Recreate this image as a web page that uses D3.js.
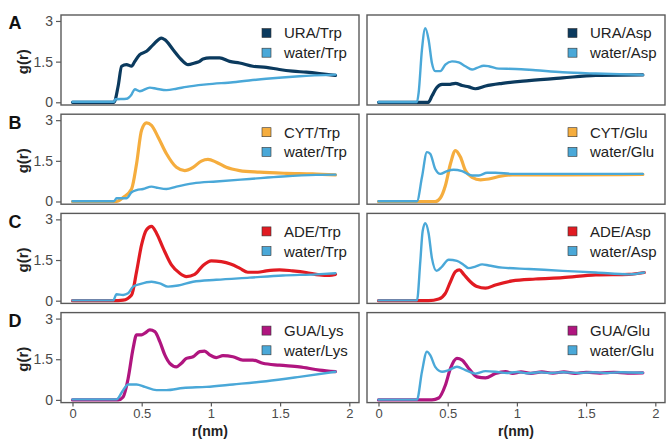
<!DOCTYPE html>
<html>
<head>
<meta charset="utf-8">
<script src="https://cdn.jsdelivr.net/npm/d3@7"></script>
<style>
  body { margin: 0; background: #fff; }
  svg { display: block; }
</style>
</head>
<body>
<div id="canvas"></div>
<script>
"use strict"

/* Chart values: [r (nm), g(r)] */

let letters = ["A", "B", "C", "D"];
let leftNames = ["URA/Trp", "CYT/Trp", "ADE/Trp", "GUA/Lys"];
let leftWater = ["water/Trp", "water/Trp", "water/Trp", "water/Lys"];
let rightNames = ["URA/Asp", "CYT/Glu", "ADE/Asp", "GUA/Glu"];
let rightWater = ["water/Asp", "water/Glu", "water/Asp", "water/Glu"];

let xTicks = [0, 0.5, 1, 1.5, 2];
let yTicks = [0, 1.5, 3];

let uraTrp = [[0,0],[0.30,0],[0.33,0.60],[0.355,1.33],[0.39,1.39],[0.427,1.33],[0.45,1.51],[0.486,1.76],[0.535,1.88],[0.582,2.12],[0.643,2.37],[0.667,2.31],[0.727,1.94],[0.787,1.57],[0.835,1.39],[0.883,1.45],[0.919,1.51],[0.943,1.60],[0.991,1.64],[1.063,1.64],[1.135,1.51],[1.207,1.45],[1.303,1.33],[1.40,1.29],[1.495,1.21],[1.59,1.15],[1.688,1.11],[1.784,1.06],[1.90,0.99]];
let waterTrpA = [[0,0.02],[0.30,0.02],[0.31,0.11],[0.39,0.13],[0.427,0.29],[0.45,0.48],[0.486,0.41],[0.559,0.54],[0.607,0.50],[0.679,0.45],[0.751,0.50],[0.823,0.57],[0.967,0.66],[1.159,0.74],[1.40,0.87],[1.64,0.96],[1.90,1.02]];
let uraAsp = [[0,0],[0.36,0],[0.386,0.23],[0.42,0.54],[0.459,0.66],[0.507,0.66],[0.556,0.70],[0.604,0.62],[0.652,0.57],[0.70,0.50],[0.773,0.60],[0.894,0.70],[1.087,0.80],[1.33,0.90],[1.57,0.99],[1.91,1.01]];
let waterAspA = [[0,0.01],[0.278,0.01],[0.29,0.35],[0.314,1.94],[0.338,2.73],[0.362,2.31],[0.386,1.45],[0.41,1.15],[0.447,1.15],[0.483,1.39],[0.531,1.51],[0.58,1.47],[0.628,1.33],[0.676,1.21],[0.712,1.27],[0.761,1.35],[0.797,1.33],[0.87,1.24],[0.99,1.23],[1.135,1.18],[1.33,1.11],[1.57,1.06],[1.91,1.01]];

let cytTrp = [[0,0],[0.318,0],[0.366,0.15],[0.427,0.46],[0.463,1.39],[0.499,2.63],[0.535,2.90],[0.571,2.81],[0.618,2.38],[0.679,1.76],[0.751,1.26],[0.811,1.14],[0.871,1.26],[0.931,1.49],[0.979,1.55],[1.039,1.45],[1.111,1.26],[1.207,1.14],[1.351,1.08],[1.544,1.04],[1.735,1.02],[1.90,0.98]];
let waterTrpB = [[0,0.01],[0.30,0.01],[0.318,0.12],[0.39,0.12],[0.427,0.34],[0.463,0.42],[0.51,0.46],[0.571,0.55],[0.618,0.50],[0.679,0.46],[0.751,0.55],[0.871,0.67],[1.039,0.74],[1.279,0.83],[1.519,0.92],[1.76,0.98],[1.90,0.99]];
let cytGlu = [[0,0],[0.41,0],[0.447,0.13],[0.483,0.58],[0.52,1.39],[0.556,1.88],[0.592,1.64],[0.628,1.14],[0.676,0.89],[0.737,0.80],[0.797,0.83],[0.87,0.92],[0.966,0.98],[1.33,0.98],[1.91,1.00]];
let waterGluB = [[0,0.01],[0.278,0.01],[0.314,0.89],[0.35,1.82],[0.374,1.76],[0.41,1.20],[0.447,1.02],[0.495,1.12],[0.543,1.17],[0.604,1.12],[0.676,0.96],[0.725,0.96],[0.785,1.06],[0.845,1.06],[0.966,1.02],[1.91,1.02]];

let adeTrp = [[0,0],[0.294,0],[0.366,0.02],[0.427,0.21],[0.463,1.07],[0.499,2.06],[0.535,2.62],[0.571,2.74],[0.607,2.49],[0.655,1.94],[0.715,1.32],[0.775,1.01],[0.823,0.89],[0.883,0.97],[0.943,1.30],[1.003,1.47],[1.075,1.44],[1.147,1.34],[1.207,1.20],[1.267,1.05],[1.339,1.05],[1.40,1.10],[1.495,1.14],[1.59,1.10],[1.688,1.04],[1.784,0.95],[1.856,0.93],[1.90,0.97]];
let waterTrpC = [[0,0.01],[0.294,0.01],[0.318,0.24],[0.366,0.21],[0.402,0.27],[0.438,0.52],[0.486,0.61],[0.571,0.70],[0.631,0.64],[0.69,0.52],[0.763,0.56],[0.871,0.70],[1.039,0.77],[1.279,0.85],[1.519,0.93],[1.76,0.97],[1.90,1.01]];
let adeAsp = [[0,0],[0.362,0],[0.435,0.06],[0.483,0.27],[0.52,0.70],[0.556,1.07],[0.585,1.14],[0.616,0.97],[0.664,0.70],[0.712,0.52],[0.773,0.46],[0.845,0.58],[0.966,0.73],[1.135,0.80],[1.33,0.85],[1.57,0.95],[1.81,0.97],[1.92,1.04]];
let waterAspC = [[0,0.01],[0.278,0.01],[0.302,1.44],[0.319,2.56],[0.338,2.86],[0.362,2.49],[0.386,1.57],[0.42,1.10],[0.459,1.26],[0.507,1.51],[0.567,1.47],[0.616,1.32],[0.652,1.20],[0.70,1.26],[0.749,1.34],[0.797,1.30],[0.894,1.22],[1.087,1.17],[1.33,1.10],[1.57,1.04],[1.81,0.97],[1.92,1.04]];

let guaLys = [[0,0],[0.33,0],[0.366,0.11],[0.402,0.79],[0.438,1.90],[0.463,2.40],[0.499,2.40],[0.523,2.46],[0.559,2.58],[0.595,2.52],[0.631,2.15],[0.667,1.66],[0.703,1.35],[0.751,1.22],[0.787,1.35],[0.823,1.53],[0.871,1.59],[0.919,1.78],[0.955,1.80],[0.991,1.66],[1.039,1.56],[1.087,1.63],[1.159,1.59],[1.231,1.47],[1.303,1.47],[1.375,1.35],[1.495,1.28],[1.64,1.22],[1.784,1.10],[1.90,1.04]];
let waterLys = [[0,0.02],[0.318,0.02],[0.366,0.36],[0.402,0.57],[0.463,0.57],[0.523,0.48],[0.607,0.36],[0.679,0.36],[0.799,0.44],[0.967,0.48],[1.159,0.57],[1.40,0.69],[1.64,0.85],[1.90,1.04]];
let guaGlu = [[0,0],[0.386,0],[0.435,0.07],[0.483,0.54],[0.52,1.16],[0.567,1.53],[0.604,1.47],[0.652,1.16],[0.712,0.85],[0.773,0.81],[0.845,0.97],[0.918,1.04],[0.97,0.98],[1.03,1.03],[1.1,0.98],[1.18,1.03],[1.26,0.99],[1.34,1.03],[1.42,0.98],[1.5,1.02],[1.6,0.99],[1.7,1.02],[1.8,0.99],[1.91,1.0]];
let waterGluD = [[0,0.01],[0.278,0.01],[0.314,1.04],[0.35,1.78],[0.374,1.65],[0.41,1.22],[0.459,1.04],[0.507,1.10],[0.567,1.22],[0.628,1.10],[0.70,0.97],[0.773,1.06],[0.845,1.04],[0.93,0.99],[1.0,1.03],[1.08,0.98],[1.16,1.02],[1.24,0.99],[1.33,1.02],[1.45,0.99],[1.55,1.02],[1.65,0.99],[1.75,1.02],[1.91,1.0]];

/* Styles */
let soluteColors = ["#0b3a5e", "#f5ad3e", "#e11b22", "#b0157f"];
let waterColor = "#4aa8d8";
let frameColor = "#5a5a5a";
let tickTextColor = "#4a4a4a";

/* Layout */
let svgWidth = 666;
let svgHeight = 439;
let colLeft = [61, 367];
let panelW = 298;
let panelH = 90;
let panelTop0 = 15;
let panelStep = 99.2;

let svg = d3.select("#canvas")
    .append("svg")
    .attr("width", svgWidth)
    .attr("height", svgHeight)
    .attr("font-family", "Liberation Sans, Arial, sans-serif");

// one row per letter, two columns
let panels = [];
letters.forEach(function (letter, i) {
    panels.push({ row: i, col: 0, solute: [uraTrp, cytTrp, adeTrp, guaLys][i], water: [waterTrpA, waterTrpB, waterTrpC, waterLys][i], name: leftNames[i], wname: leftWater[i] });
    panels.push({ row: i, col: 1, solute: [uraAsp, cytGlu, adeAsp, guaGlu][i], water: [waterAspA, waterGluB, waterAspC, waterGluD][i], name: rightNames[i], wname: rightWater[i] });
});

panels.forEach(function (p) {
    let left = colLeft[p.col];
    let top = panelTop0 + p.row * panelStep;
    let color = soluteColors[p.row];

    let xScale = d3.scaleLinear()
        .domain([-0.083, 2.07])
        .range([left, left + panelW]);

    let yScale = d3.scaleLinear()
        .domain([-0.1, 3.22])
        .range([top + panelH, top]);

    let line = d3.line()
        .x(function (d) { return xScale(d[0]); })
        .y(function (d) { return yScale(d[1]); })
        .curve(d3.curveMonotoneX);

    let g = svg.append("g");

    g.append("path")
        .datum(p.solute)
        .attr("fill", "none")
        .attr("stroke", color)
        .attr("stroke-width", 3.2)
        .attr("stroke-linejoin", "round")
        .attr("stroke-linecap", "round")
        .attr("d", line);

    g.append("path")
        .datum(p.water)
        .attr("fill", "none")
        .attr("stroke", waterColor)
        .attr("stroke-width", 2.4)
        .attr("stroke-linejoin", "round")
        .attr("stroke-linecap", "round")
        .attr("d", line);

    // panel border
    g.append("rect")
        .attr("x", left)
        .attr("y", top)
        .attr("width", panelW)
        .attr("height", panelH)
        .attr("fill", "none")
        .attr("stroke", frameColor)
        .attr("stroke-width", 1.4);

    // legend
    [[p.name, color], [p.wname, waterColor]].forEach(function (item, k) {
        let ly = top + 18 + k * 19.7;
        g.append("rect")
            .attr("x", left + 201)
            .attr("y", ly - 4.5)
            .attr("width", 9)
            .attr("height", 9)
            .attr("fill", item[1])
            .attr("stroke", "#333")
            .attr("stroke-width", 0.6);
        g.append("text")
            .attr("x", left + 223)
            .attr("y", ly)
            .attr("dy", "0.36em")
            .attr("font-size", 15)
            .attr("fill", "#222")
            .text(item[0]);
    });

    if (p.col === 0) {
        let yAxis = d3.axisLeft(yScale)
            .tickValues(yTicks)
            .tickSize(5)
            .tickPadding(3)
            .tickFormat(d3.format("~g"));
        let ya = g.append("g")
            .attr("transform", "translate(" + left + ",0)")
            .call(yAxis);
        ya.select(".domain").remove();
        ya.selectAll("line").attr("stroke", frameColor).attr("stroke-width", 1.2);
        ya.selectAll("text")
            .attr("font-size", 14)
            .attr("font-family", "Liberation Sans, Arial, sans-serif")
            .attr("fill", tickTextColor);

        svg.append("text")
            .attr("transform", "translate(28," + yScale(1.5) + ") rotate(-90)")
            .attr("text-anchor", "middle")
            .attr("font-size", 15)
            .attr("font-weight", "bold")
            .attr("fill", "#222")
            .text("g(r)");

        svg.append("text")
            .attr("x", 15)
            .attr("y", top + 8)
            .attr("dy", "0.36em")
            .attr("text-anchor", "middle")
            .attr("font-size", 18)
            .attr("font-weight", "bold")
            .attr("fill", "#111")
            .text(letters[p.row]);
    }

    if (p.row === letters.length - 1) {
        let xAxis = d3.axisBottom(xScale)
            .tickValues(xTicks)
            .tickSize(4)
            .tickPadding(2)
            .tickFormat(d3.format("~g"));
        let xa = g.append("g")
            .attr("transform", "translate(0," + (top + panelH) + ")")
            .call(xAxis);
        xa.select(".domain").remove();
        xa.selectAll("line").attr("stroke", frameColor).attr("stroke-width", 1.2);
        xa.selectAll("text")
            .attr("font-size", 13)
            .attr("font-family", "Liberation Sans, Arial, sans-serif")
            .attr("fill", tickTextColor);

        svg.append("text")
            .attr("x", (left + left + panelW) / 2)
            .attr("y", 435.5)
            .attr("text-anchor", "middle")
            .attr("font-size", 14)
            .attr("font-weight", "bold")
            .attr("fill", "#222")
            .text("r(nm)");
    }
});
</script>
</body>
</html>
